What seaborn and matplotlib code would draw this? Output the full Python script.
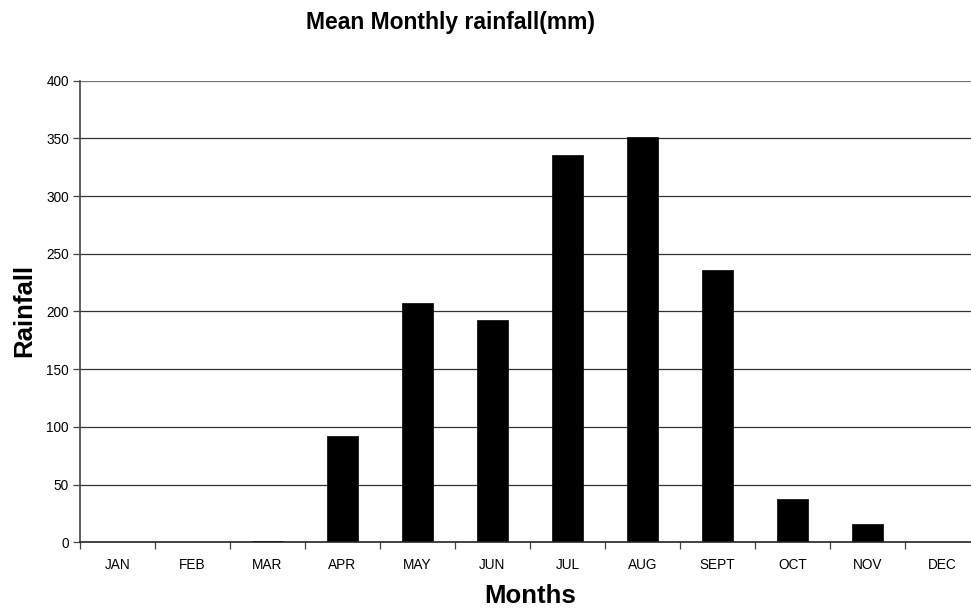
import matplotlib
matplotlib.use("Agg")
import matplotlib.pyplot as plt
import seaborn as sns
import numpy as np
import pandas as pd

months = ["JAN", "FEB", "MAR", "APR", "MAY", "JUN", "JUL", "AUG", "SEPT", "OCT", "NOV", "DEC"]
rainfall = [0, 0, 1, 92, 207, 193, 336, 351, 236, 37.5, 16, 0]
yticks = [0, 50, 100, 150, 200, 250, 300, 350, 400]

sns.set_style("white")
plt.rcParams['font.family'] = ['Liberation Sans', 'DejaVu Sans']
plt.rcParams['text.color'] = 'black'
plt.rcParams['xtick.color'] = 'black'
plt.rcParams['ytick.color'] = 'black'
plt.rcParams['xtick.bottom'] = True
plt.rcParams['ytick.left'] = True

df = pd.DataFrame({"Month": months, "Rainfall": rainfall})

fig = plt.figure(figsize=(9.71, 6.12), dpi=100)
# plot area runs past the right edge of the image, as in the reference
ax = fig.add_axes([80/971, (612-542.3)/612, 900/971, (542.3-80.7)/612])

sns.barplot(data=df, x="Month", y="Rainfall", color="black", width=0.41,
            saturation=1, edgecolor="black", linewidth=0.5, ax=ax, zorder=3)

ax.set_xlim(-0.5, len(months) - 0.5)
ax.set_ylim(0, 400)
ax.set_yticks(yticks)
ax.set_yticklabels([str(v) for v in yticks], fontsize=9.8)
for v in yticks[1:]:
    ax.axhline(v, color="#333333" if v < 400 else "#777777", linewidth=0.9, zorder=1)

# category boundary ticks, labels centered
ax.set_xticks(np.arange(-0.5, len(months), 1.0))
ax.set_xticklabels([])
ax.set_xticks(np.arange(len(months)), minor=True)
ax.set_xticklabels(months, minor=True, fontsize=9.8)
ax.tick_params(axis="x", which="major", bottom=True, direction="out", length=5, width=0.9, color="#444444")
ax.tick_params(axis="x", which="minor", bottom=True, length=0, pad=11)
ax.tick_params(axis="y", left=True, direction="out", length=5, width=0.9, color="#444444", pad=3)

for s in ["top", "right"]:
    ax.spines[s].set_visible(False)
ax.spines["left"].set_color("#444444")
ax.spines["left"].set_linewidth(1.2)
ax.spines["bottom"].set_color("#222222")
ax.spines["bottom"].set_linewidth(1.2)
ax.spines["bottom"].set_zorder(4)

ax.set_xlabel("")
ax.set_ylabel("")
fig.text(451/971, 1 - 22/612, "Mean Monthly rainfall(mm)", ha="center", va="center",
         fontsize=16.5, fontweight="bold")
fig.text(24/971, 1 - 310/612, "Rainfall", ha="center", va="center", rotation=90,
         fontsize=18.5, fontweight="bold")
fig.text(530/971, 1 - 596/612, "Months", ha="center", va="center",
         fontsize=18.5, fontweight="bold")

fig.savefig("out.png", dpi=100)
